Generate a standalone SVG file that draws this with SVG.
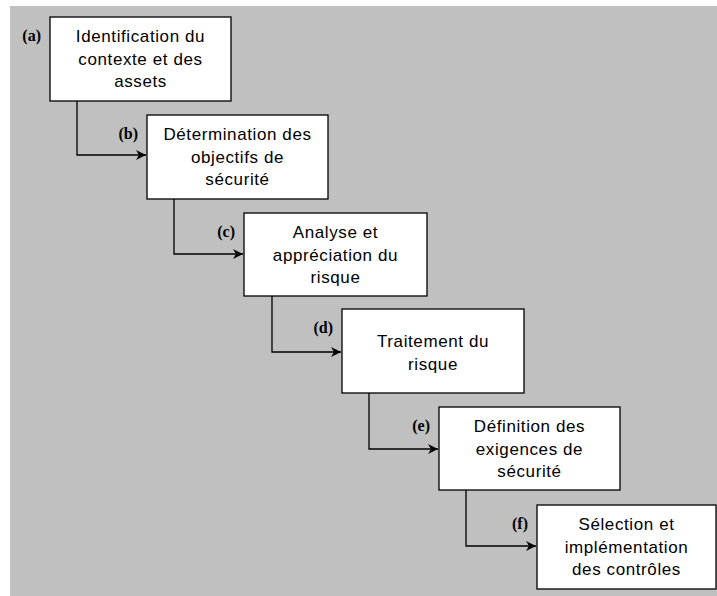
<svg xmlns="http://www.w3.org/2000/svg" width="717" height="596" viewBox="0 0 717 596">
<style>
.box{fill:#fff;stroke:#000;stroke-width:1.3}
.t{font-family:"Liberation Sans",Arial,sans-serif;font-size:17px;letter-spacing:0.6px;fill:#000;text-anchor:middle}
.l{font-family:"Liberation Serif","Times New Roman",serif;font-size:16px;font-weight:bold;fill:#000;text-anchor:end}
.c{fill:none;stroke:#000;stroke-width:1.3}
</style>
<defs>
<marker id="ah" markerWidth="12" markerHeight="10" refX="10" refY="5" orient="auto" markerUnits="userSpaceOnUse">
<path d="M0,0 L10,5 L0,10 L3,5 Z" fill="#000"/>
</marker>
</defs>
<rect x="10" y="6" width="707" height="590" fill="#c0c0c0"/>
<g id="connectors">
<polyline class="c" points="77,101 77,155 146,155" marker-end="url(#ah)"/>
<polyline class="c" points="174,198 174,254 243,254" marker-end="url(#ah)"/>
<polyline class="c" points="272,296 272,352 341,352" marker-end="url(#ah)"/>
<polyline class="c" points="369,393 369,449 438,449" marker-end="url(#ah)"/>
<polyline class="c" points="466,490 466,546 536,546" marker-end="url(#ah)"/>
</g>
<g id="a">
<rect class="box" x="50" y="17" width="181" height="84"/>
<text class="l" x="41" y="41">(a)</text>
<text class="t" x="140.5" y="42">Identification du</text>
<text class="t" x="140.5" y="64.5">contexte et des</text>
<text class="t" x="140.5" y="87">assets</text>
</g>
<g id="b">
<rect class="box" x="147" y="115" width="181" height="84"/>
<text class="l" x="138" y="139">(b)</text>
<text class="t" x="237.5" y="140">Détermination des</text>
<text class="t" x="237.5" y="162.5">objectifs de</text>
<text class="t" x="237.5" y="185">sécurité</text>
</g>
<g id="c">
<rect class="box" x="244" y="213" width="183" height="83"/>
<text class="l" x="235" y="237">(c)</text>
<text class="t" x="335.5" y="238">Analyse et</text>
<text class="t" x="335.5" y="260.5">appréciation du</text>
<text class="t" x="335.5" y="283">risque</text>
</g>
<g id="d">
<rect class="box" x="342" y="309" width="182" height="84"/>
<text class="l" x="333" y="333">(d)</text>
<text class="t" x="433" y="347">Traitement du</text>
<text class="t" x="433" y="369.5">risque</text>
</g>
<g id="e">
<rect class="box" x="439" y="407" width="181" height="83"/>
<text class="l" x="430" y="431">(e)</text>
<text class="t" x="529.5" y="432">Définition des</text>
<text class="t" x="529.5" y="454.5">exigences de</text>
<text class="t" x="529.5" y="477">sécurité</text>
</g>
<g id="f">
<rect class="box" x="537" y="505" width="179" height="84"/>
<text class="l" x="528" y="529">(f)</text>
<text class="t" x="626.5" y="530">Sélection et</text>
<text class="t" x="626.5" y="552.5">implémentation</text>
<text class="t" x="626.5" y="575">des contrôles</text>
</g>
</svg>
